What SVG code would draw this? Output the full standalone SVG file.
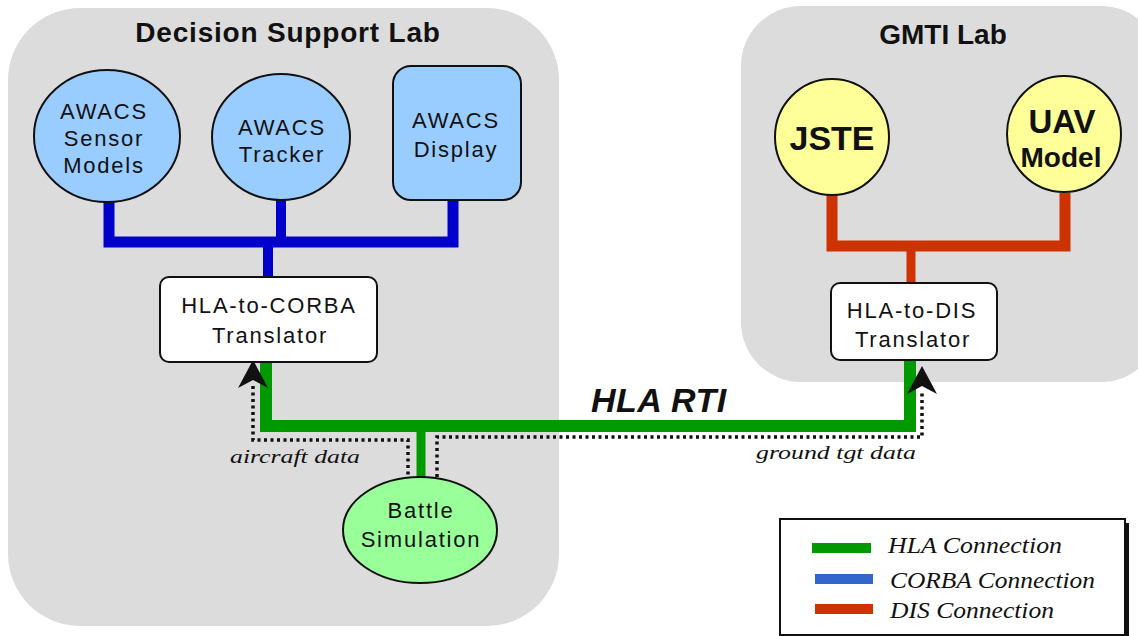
<svg xmlns="http://www.w3.org/2000/svg" width="1138" height="636" viewBox="0 0 1138 636">
<defs>
<style>
.panel{fill:#dcdcdc}
.title{font-family:"Liberation Sans",Arial,sans-serif;font-weight:bold;font-size:28px;fill:#111;text-anchor:middle}
.lbl{font-family:"Liberation Sans",Arial,sans-serif;font-size:22px;fill:#111;text-anchor:middle;letter-spacing:1.8px}
.big{font-family:"Liberation Sans",Arial,sans-serif;font-weight:bold;fill:#111;text-anchor:middle}
.ital{font-family:"Liberation Serif","Times New Roman",serif;font-style:italic;fill:#111}
.node{stroke:#111;stroke-width:2}
.blue{fill:#99ccff}
.yellow{fill:#ffff99}
.green{fill:#99ff99}
.white{fill:#ffffff}
.conn{fill:none;stroke-linejoin:miter;stroke-linecap:butt}
.dot{fill:none;stroke:#111;stroke-width:3.5;stroke-dasharray:3 3.5}
</style>
</defs>
<rect width="1138" height="636" fill="#ffffff"/>
<g id="panel-dsl">
<rect class="panel" x="8" y="8" width="551" height="618" rx="72"/>
<text class="title" x="288" y="42" letter-spacing="0.8">Decision Support Lab</text>
</g>
<g id="panel-gmti">
<rect class="panel" x="741" y="6" width="420" height="376" rx="60"/>
<text class="title" x="943" y="44">GMTI Lab</text>
</g>
<g id="connectors">
<path class="conn" d="M109,202 V242 H453 V200" stroke="#0000cc" stroke-width="11"/>
<path class="conn" d="M281,200 V242" stroke="#0000cc" stroke-width="10"/>
<path class="conn" d="M268,242 V277" stroke="#0000cc" stroke-width="10"/>
<path class="conn" d="M832,195 V246 H1065 V193" stroke="#cc3300" stroke-width="11"/>
<path class="conn" d="M911,246 V283" stroke="#cc3300" stroke-width="9"/>
<path class="conn" d="M266,362 V426 H910 V361" stroke="#009900" stroke-width="12"/>
<path class="conn" d="M421,426 V477" stroke="#009900" stroke-width="9"/>
<path class="dot" d="M253,386 V440 H408 V477"/>
<path class="dot" d="M437,477 V437 H922 V392"/>
<polygon points="253,360 268,388 253,380 238,388" fill="#111"/>
<polygon points="922,366 937,394 922,386 907,394" fill="#111"/>
<text class="ital" x="230" y="463" font-size="18" textLength="130" lengthAdjust="spacingAndGlyphs">aircraft data</text>
<text class="ital" x="756" y="459" font-size="18" textLength="160" lengthAdjust="spacingAndGlyphs">ground tgt data</text>
<text x="591" y="412" font-family="Liberation Sans,Arial,sans-serif" font-weight="bold" font-style="italic" font-size="34" fill="#111" letter-spacing="0.5">HLA RTI</text>
</g>
<g id="awacs-sensor">
<ellipse class="node blue" cx="107" cy="136" rx="73" ry="66"/>
<text class="lbl" x="104" y="119">AWACS</text>
<text class="lbl" x="104" y="146">Sensor</text>
<text class="lbl" x="104" y="173">Models</text>
</g>
<g id="awacs-tracker">
<ellipse class="node blue" cx="281" cy="137" rx="69" ry="63"/>
<text class="lbl" x="282" y="135">AWACS</text>
<text class="lbl" x="282" y="162">Tracker</text>
</g>
<g id="awacs-display">
<rect class="node blue" x="393" y="66" width="128" height="134" rx="18"/>
<text class="lbl" x="456" y="128">AWACS</text>
<text class="lbl" x="456" y="157">Display</text>
</g>
<g id="hla-corba">
<rect class="node white" x="160" y="277" width="217" height="85" rx="9"/>
<text class="lbl" x="269" y="313">HLA-to-CORBA</text>
<text class="lbl" x="270" y="343">Translator</text>
</g>
<g id="jste">
<ellipse class="node yellow" cx="832" cy="137" rx="57" ry="58"/>
<text class="big" x="832" y="150" font-size="34">JSTE</text>
</g>
<g id="uav">
<ellipse class="node yellow" cx="1064" cy="134" rx="57" ry="58"/>
<text class="big" x="1062" y="133" font-size="33">UAV</text>
<text class="big" x="1061" y="167" font-size="28">Model</text>
</g>
<g id="hla-dis">
<rect class="node white" x="831" y="283" width="166" height="77" rx="9"/>
<text class="lbl" x="912" y="318">HLA-to-DIS</text>
<text class="lbl" x="913" y="347">Translator</text>
</g>
<g id="battle">
<ellipse class="node green" cx="420" cy="530" rx="77" ry="53"/>
<text class="lbl" x="421" y="518">Battle</text>
<text class="lbl" x="421" y="547">Simulation</text>
</g>
<g id="legend">
<rect x="784" y="523" width="345" height="116" fill="#111"/>
<rect x="780" y="519" width="345" height="116" fill="#ffffff" stroke="#111" stroke-width="2"/>
<rect x="812" y="543" width="59" height="10" fill="#009900"/>
<rect x="815" y="574" width="58" height="10" fill="#3366cc"/>
<rect x="815" y="604" width="58" height="10" fill="#cc3300"/>
<text class="ital" x="888" y="553" font-size="24" textLength="174" lengthAdjust="spacingAndGlyphs">HLA Connection</text>
<text class="ital" x="890" y="588" font-size="24" textLength="205" lengthAdjust="spacingAndGlyphs">CORBA Connection</text>
<text class="ital" x="890" y="618" font-size="24" textLength="164" lengthAdjust="spacingAndGlyphs">DIS Connection</text>
</g>
</svg>
